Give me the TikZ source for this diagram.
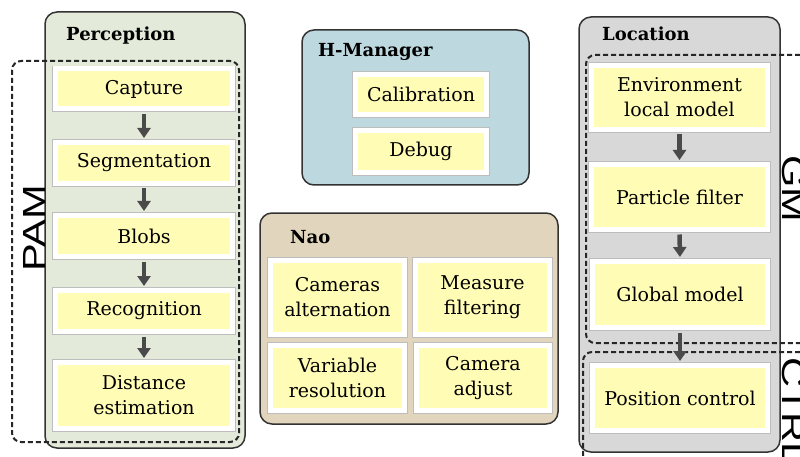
\documentclass[tikz,border=0pt]{standalone}
\usepackage{graphicx}
\usepackage{fontspec}
\setmainfont{DejaVu Serif}
\newfontfamily\labelfont{Liberation Sans}
\usetikzlibrary{arrows.meta}

\definecolor{percfill}{HTML}{E3EAD9}
\definecolor{hmfill}{HTML}{BED8DF}
\definecolor{naofill}{HTML}{E1D5BD}
\definecolor{locfill}{HTML}{D8D8D8}
\definecolor{yfill}{HTML}{FFFCB6}
\definecolor{ringgray}{HTML}{BDBDBD}
\definecolor{framegray}{HTML}{333333}
\definecolor{arrowgray}{HTML}{4A4A4A}

\tikzset{
  container/.style={draw=framegray, line width=1.5pt, rounded corners=12pt},
  title/.style={anchor=base west, inner sep=0pt, font=\bfseries\fontsize{18}{22}\selectfont},
  ibox/.style={fill=yfill, draw=white, line width=5pt,
    preaction={draw=ringgray, line width=6.6pt},
    inner sep=0pt, align=center, font=\fontsize{19}{25}\selectfont},
  groupline/.style={draw=black!85, line width=2pt, dash pattern=on 5pt off 3pt, rounded corners=9pt},
  grouplabel/.style={inner sep=0pt, anchor=base west, font=\labelfont\fontsize{32}{32}\selectfont},
  flow/.style={draw=arrowgray, line width=4.5pt, -{Triangle[width=13pt,length=10pt]},
    shorten <=2.5pt, shorten >=2pt}
}

\begin{document}
\begin{tikzpicture}[x=1pt,y=-1pt]
\useasboundingbox (0,0) rectangle (800,457);
\fill[white] (0,0) rectangle (800,457);
\clip (0,0) rectangle (800,457);

% module frames
\path[container, fill=percfill] (45,12) rectangle (245,448);
\path[container, fill=hmfill] (302,30) rectangle (529,185);
\path[container, fill=naofill] (260,213) rectangle (558,424);
\path[container, fill=locfill] (579,17) rectangle (780,452);

\node[title] (tperc) at (66,41) {Perception};
\node[title] (thm) at (318,57) {H-Manager};
\node[title] (tnao) at (290,243) {Nao};
\node[title] (tloc) at (602,41) {Location};

% dashed groupings
\path[groupline] (12,61) rectangle (239,442);
\path[groupline] (840,55) -- (586,55) -- (586,343) -- (840,343);
\path[groupline] (840,352) -- (583,352) -- (583,480);

% perception pipeline
\node[ibox, minimum width=177pt, minimum height=40pt] (capture) at (144,89) {Capture};
\node[ibox, minimum width=177pt, minimum height=41pt] (segment) at (144,163) {Segmentation};
\node[ibox, minimum width=177pt, minimum height=41pt] (blobs) at (144,236) {Blobs};
\node[ibox, minimum width=177pt, minimum height=41pt] (recog) at (144,311) {Recognition};
\node[ibox, minimum width=177pt, minimum height=66pt] (dist) at (144,395.5) {Distance\\estimation};

% H-Manager
\node[ibox, minimum width=131pt, minimum height=40pt] (calib) at (421,94.5) {Calibration};
\node[ibox, minimum width=131pt, minimum height=42pt] (debug) at (421,151.5) {Debug};

% Nao
\node[ibox, minimum width=134pt, minimum height=74pt] (camalt) at (337.5,297.5) {Cameras\\alternation};
\node[ibox, minimum width=134pt, minimum height=74pt] (measure) at (482.5,297.5) {Measure\\filtering};
\node[ibox, minimum width=134pt, minimum height=65pt] (varres) at (337.5,378) {Variable\\resolution};
\node[ibox, minimum width=133pt, minimum height=65pt] (camadj) at (483,378) {Camera\\adjust};

% Location
\node[ibox, minimum width=176pt, minimum height=64pt] (envmodel) at (679.5,97.5) {Environment\\local model};
\node[ibox, minimum width=176pt, minimum height=65pt] (particle) at (679.5,197) {Particle filter};
\node[ibox, minimum width=175pt, minimum height=66pt] (global) at (680,294.5) {Global model};
\node[ibox, minimum width=175pt, minimum height=65pt] (posctrl) at (680,398) {Position control};

% data flow
\draw[flow] (capture.south) -- (segment.north);
\draw[flow] (segment.south) -- (blobs.north);
\draw[flow] (blobs.south) -- (recog.north);
\draw[flow] (recog.south) -- (dist.north);
\draw[flow] (envmodel.south) -- (particle.north);
\draw[flow] (particle.south) -- (global.north);
\draw[flow] (global.south) -- (posctrl.north);

% group labels
\node[grouplabel, rotate=90] (pam) at (45.5,272) {\scalebox{1.3}[1]{PAM}};
\node[grouplabel, rotate=-90] (gm) at (782,155) {\scalebox{1.3}[1]{GM}};
\node[grouplabel, rotate=-90] (ctrl) at (782,357) {\scalebox{1.3}[1]{CTRL}};
\end{tikzpicture}
\end{document}
